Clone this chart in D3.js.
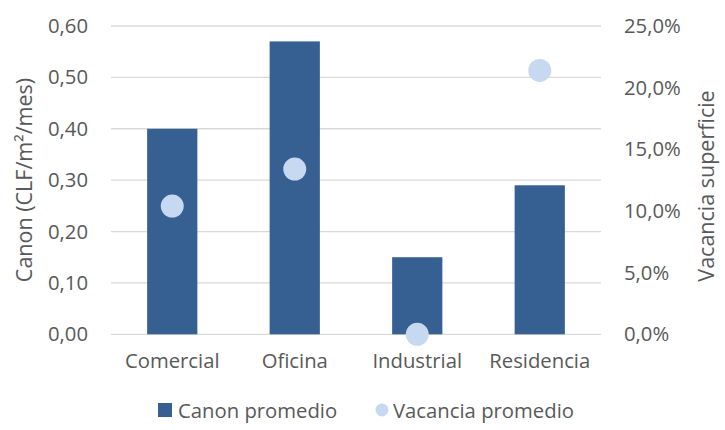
<!DOCTYPE html>
<html><head><meta charset="utf-8">
<script src="https://cdn.jsdelivr.net/npm/d3@7"></script>
<style>body{margin:0;background:#fff}svg{display:block}</style>
</head><body>
<svg id="c" width="725" height="430"></svg>
<script>
const categories = ["Comercial","Oficina","Industrial","Residencia"];
const canon = [0.40, 0.57, 0.15, 0.29];
const vacancia = [0.104, 0.134, 0.0, 0.214];
const leftTicks = [0,0.1,0.2,0.3,0.4,0.5,0.6];
const rightTicks = [0,0.05,0.10,0.15,0.20,0.25];
const seriesNames = ["Canon promedio","Vacancia promedio"];
const leftTitle = "Canon (CLF/m²/mes)";
const rightTitle = "Vacancia superficie";

const svg = d3.select("#c");
const font = "'Open Sans', sans-serif";
const tc = "#595959";
const fs = 20.3;
const L = 111, R = 601, T = 26, B = 334.3;
const x = d3.scaleBand().domain(categories).range([L,R]).paddingInner(0.59).paddingOuter(0.295);
const y = d3.scaleLinear().domain([0,0.6]).range([B,T]);
const y2 = d3.scaleLinear().domain([0,0.25]).range([B,T]);
const fmtL = v => d3.format(".2f")(v).replace(".", ",");
const fmtR = v => d3.format(".1f")(v*100).replace(".", ",") + "%";

// grid
svg.append("g").selectAll("line").data(leftTicks).join("line")
  .attr("x1",L).attr("x2",R).attr("y1",d=>y(d)).attr("y2",d=>y(d))
  .attr("stroke","#d9d9d9").attr("stroke-width",1.3);

// left axis
const ga = svg.append("g").attr("transform",`translate(${L},0)`)
  .call(d3.axisLeft(y).tickValues(leftTicks).tickFormat(fmtL).tickSize(0).tickPadding(23));
ga.select(".domain").remove();
ga.selectAll("text").attr("font-family",font).attr("font-size",fs).attr("fill",tc);

const gr = svg.append("g").attr("transform",`translate(${R},0)`)
  .call(d3.axisRight(y2).tickValues(rightTicks).tickFormat(fmtR).tickSize(0).tickPadding(23));
gr.select(".domain").remove();
gr.selectAll("text").attr("font-family",font).attr("font-size",fs).attr("fill",tc);

// bars
svg.append("g").selectAll("rect").data(categories).join("rect")
  .attr("x",d=>x(d)).attr("width",x.bandwidth())
  .attr("y",(d,i)=>y(canon[i])).attr("height",(d,i)=>B-y(canon[i]))
  .attr("fill","#366092");

// points
svg.append("g").selectAll("circle").data(categories).join("circle")
  .attr("cx",d=>x(d)+x.bandwidth()/2).attr("cy",(d,i)=>y2(vacancia[i]))
  .attr("r",11.5).attr("fill","#c6d9f1");

// x axis labels
const gx = svg.append("g").attr("transform",`translate(0,${B})`)
  .call(d3.axisBottom(x).tickSize(0).tickPadding(19));
gx.select(".domain").remove();
gx.selectAll("text").attr("font-family",font).attr("font-size",fs).attr("fill",tc);

// axis titles
svg.append("text").attr("transform","translate(32,180) rotate(-90)")
  .attr("text-anchor","middle").attr("font-family",font).attr("font-size",21.5).attr("fill",tc)
  .text(leftTitle);
svg.append("text").attr("transform","translate(714,186) rotate(-90)")
  .attr("text-anchor","middle").attr("font-family",font).attr("font-size",21.5).attr("fill",tc)
  .text(rightTitle);

// legend
const lg = svg.append("g");
lg.append("rect").attr("x",158).attr("y",403).attr("width",14).attr("height",14).attr("fill","#366092");
lg.append("text").attr("x",178).attr("y",417.5).attr("font-family",font).attr("font-size",fs).attr("fill",tc).text(seriesNames[0]);
lg.append("circle").attr("cx",382).attr("cy",410).attr("r",6.5).attr("fill","#c6d9f1");
lg.append("text").attr("x",393).attr("y",417.5).attr("font-family",font).attr("font-size",fs).attr("fill",tc).text(seriesNames[1]);
</script>
</body></html>
